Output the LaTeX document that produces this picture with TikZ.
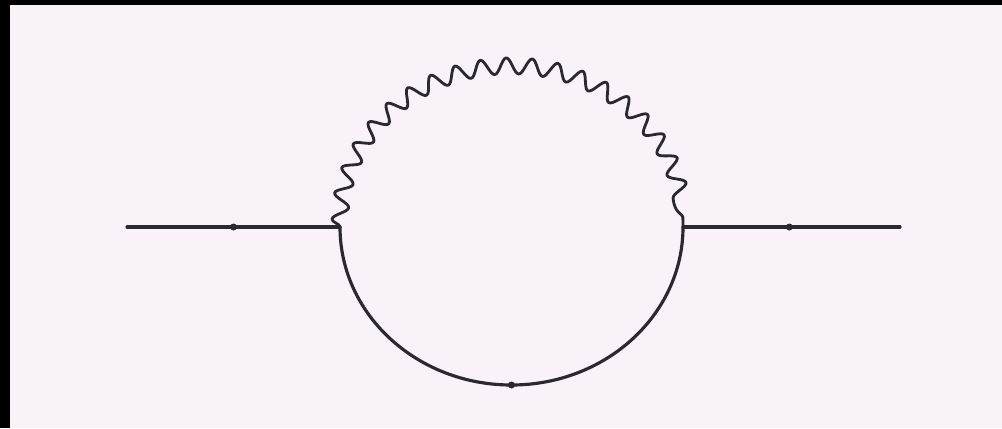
\documentclass[tikz,border=0pt]{standalone}
\usepackage{xcolor}
\usepackage{tikz}
\usetikzlibrary{arrows.meta,decorations.pathmorphing}
\definecolor{screenbg}{HTML}{F9F3F9}
\definecolor{inkgray}{HTML}{2A2830}

\begin{document}
\begin{tikzpicture}[
		x=1cm,y=1cm,
		line cap=round,
		line join=round,
		fermion/.style={draw=inkgray, line width=1.8pt},
		photon/.style={draw=inkgray, line width=1.6pt, decorate, decoration={snake, amplitude=0.16cm, segment length=0.5cm}},
		flowdot/.style={circle, fill=inkgray, inner sep=0pt, minimum size=0.14cm}
	]
	
	% Frame
	\fill[black] (0,0) rectangle (20.04,-8.56);
	\fill[screenbg] (0.2,-0.1) rectangle (20.04,-8.56);
	\useasboundingbox (0,0) rectangle (20.04,-8.56);
	
	% Vertices and external ends
	\coordinate (inL)  at (2.54,-4.54);
	\coordinate (vl)   at (6.80,-4.54);
	\coordinate (vr)   at (13.66,-4.54);
	\coordinate (outR) at (18.00,-4.54);
	
	% External fermion lines
	\draw[fermion] (inL) -- (vl) node[flowdot, pos=0.5] (dotL) {};
	\draw[fermion] (vr) -- (outR) node[flowdot, pos=0.49] (dotR) {};
	
	% Fermion propagator in the loop
	\draw[fermion] (vl) arc[start angle=180, end angle=360, x radius=3.43, y radius=3.16];
	\node[flowdot] (dotB) at (10.23,-7.70) {};
	
	% Photon propagator
	\draw[photon] (vl) arc[start angle=180, end angle=0, x radius=3.43, y radius=3.1];
	
\end{tikzpicture}
\end{document}
